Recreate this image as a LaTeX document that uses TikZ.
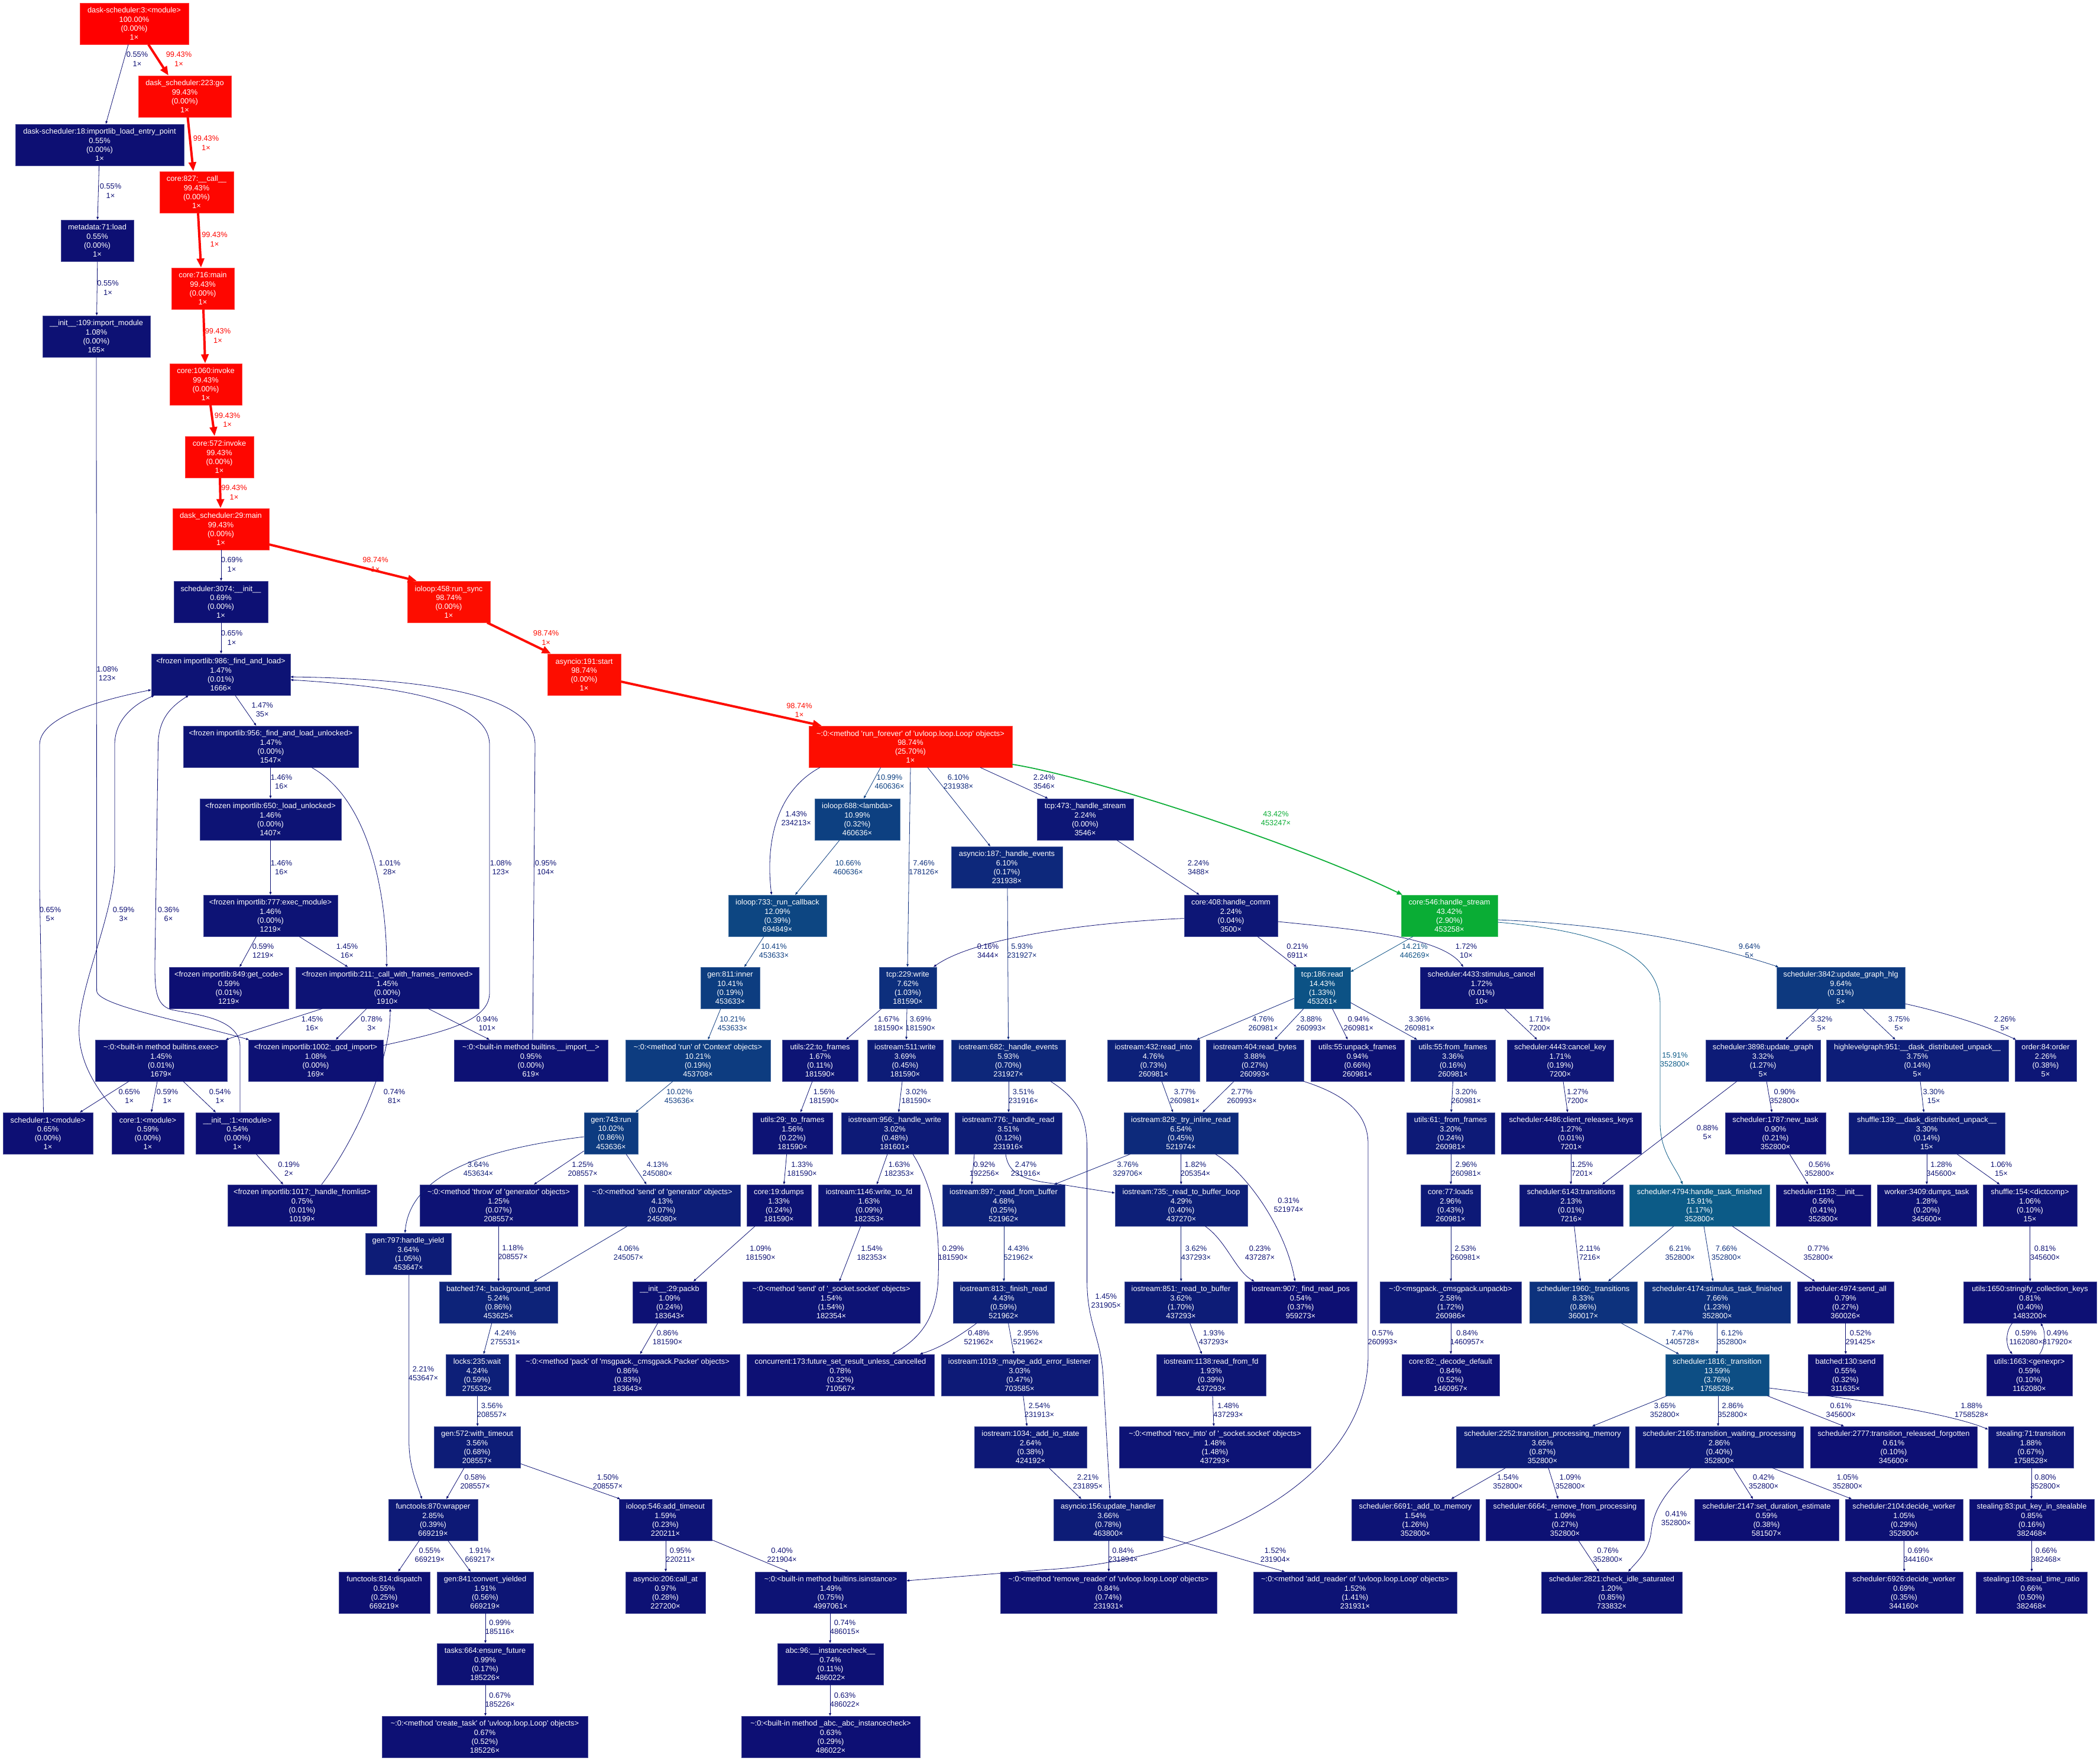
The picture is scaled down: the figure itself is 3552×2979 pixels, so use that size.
\documentclass[tikz,border=0pt]{standalone}
\usepackage{fontspec}
\usetikzlibrary{arrows.meta}
\newfontfamily\nfam{Liberation Sans}[Ligatures={TeXOff,CommonOff}]
\newcommand\nf{\nfam\fontsize{12.8}{15.1}\selectfont}
\newcommand\tld{\textasciitilde}
\newcommand\gcolor[2]{%
  \pgfmathsetmacro\gcw{min(max(#1,0),1)}%
  \pgfmathsetmacro\gch{0.666667*(1-\gcw)}%
  \pgfmathsetmacro\gcs{0.8+0.2*\gcw}%
  \pgfmathsetmacro\gcl{0.25+0.25*\gcw}%
  \pgfmathsetmacro\gcmb{\gcl*(\gcs+1)}%
  \pgfmathsetmacro\gcma{2*\gcl-\gcmb}%
  \pgfmathsetmacro\gcr{(\gch<0.166667) ? \gcmb : ((\gch<0.333333) ? (\gcma+(\gcmb-\gcma)*(0.333333-\gch)*6) : \gcma)}%
  \pgfmathsetmacro\gcg{(\gch<0.166667) ? (\gcma+(\gcmb-\gcma)*6*\gch) : ((\gch<0.5) ? \gcmb : (\gcma+(\gcmb-\gcma)*(0.666667-\gch)*6))}%
  \pgfmathsetmacro\gcb{(\gch<0.333333) ? \gcma : ((\gch<0.5) ? (\gcma+(\gcmb-\gcma)*6*(\gch-0.333333)) : \gcmb)}%
  \pgfmathsetmacro\gcr{min(max(\gcr,0),1)}%
  \pgfmathsetmacro\gcg{min(max(\gcg,0),1)}%
  \pgfmathsetmacro\gcb{min(max(\gcb,0),1)}%
  \edef\gctmp{\noexpand\definecolor{#2}{rgb}{\gcr,\gcg,\gcb}}\gctmp
}
\tikzset{
  box/.style={rectangle, inner sep=0pt, minimum height=70pt, text=white, align=center, font=\nf, line width=0.6pt},
  gn/.code={\gcolor{#1}{ncol}\pgfkeysalso{fill=ncol,draw=ncol!75!white}},
  lb/.code={\gcolor{#1}{lcol}\pgfkeysalso{text=lcol,align=center,font=\nf,inner sep=0pt}},
  ed/.code={%
    \gcolor{#1}{ecol}%
    \pgfmathsetmacro\gcpw{max(#1*4,0.5)}%
    \pgfmathsetmacro\gclw{max(#1*4,0.8)}%
    \pgfmathsetmacro\gcal{5*sqrt(\gcpw)+1.2*\gcpw+0.6}%
    \pgfmathsetmacro\gcaw{3.5*sqrt(\gcpw)+1.2*\gcpw+0.6}%
    \edef\gctmp{\noexpand\pgfkeysalso{draw=ecol,line width=\gclw pt,-{Triangle[length=\gcal pt,width=\gcaw pt]}}}%
    \gctmp
  },
}
\newcommand\GN[6]{\node[box,gn=#5,minimum width={#3-#2}] (#1) at ({(#2+#3)/2},{#4+35}) {#6};}
\newcommand\GL[4]{\node[lb=#1] (#2) at (#3) {#4};}
\newcommand\GE[5]{\draw[ed=#1] (#2.south -| #3,0) -- (#4.north -| #5,0);}
\newcommand\GEL[8]{\GE{#1}{#2}{#3}{#4}{#5}\GL{#1}{#6}{#7}{#8}}
\begin{document}
\begin{tikzpicture}[x=1pt,y=-1pt]
\useasboundingbox (0,0) rectangle (3552,2979);
\fill[white] (0,0) rectangle (3552,2979);
% ---------- nodes ----------
\GN{dask3}{135}{319}{5}{1.0}{dask-scheduler:3:<module>\\100.00\%\\(0.00\%)\\1×}
\GN{go223}{234}{391}{128}{0.9943}{dask\_scheduler:223:go\\99.43\%\\(0.00\%)\\1×}
\GN{entry18}{26}{311}{210}{0.0055}{dask-scheduler:18:importlib\_load\_entry\_point\\0.55\%\\(0.00\%)\\1×}
\GN{call827}{270}{395}{290}{0.9943}{core:827:\_\_call\_\_\\99.43\%\\(0.00\%)\\1×}
\GN{meta71}{103}{226}{372}{0.0055}{metadata:71:load\\0.55\%\\(0.00\%)\\1×}
\GN{main716}{290}{396}{453}{0.9943}{core:716:main\\99.43\%\\(0.00\%)\\1×}
\GN{imp109}{72}{254}{534}{0.0108}{\_\_init\_\_:109:import\_module\\1.08\%\\(0.00\%)\\165×}
\GN{inv1060}{287}{409}{615}{0.9943}{core:1060:invoke\\99.43\%\\(0.00\%)\\1×}
\GN{inv572}{313}{429}{738}{0.9943}{core:572:invoke\\99.43\%\\(0.00\%)\\1×}
\GN{main29}{292}{455}{860}{0.9943}{dask\_scheduler:29:main\\99.43\%\\(0.00\%)\\1×}
\GN{s3074}{294}{453}{983}{0.0069}{scheduler:3074:\_\_init\_\_\\0.69\%\\(0.00\%)\\1×}
\GN{sync458}{689}{829}{983}{0.9874}{ioloop:458:run\_sync\\98.74\%\\(0.00\%)\\1×}
\GN{fl986}{256}{491}{1106}{0.0147}{<frozen importlib:986:\_find\_and\_load>\\1.47\%\\(0.01\%)\\1666×}
\GN{start191}{926}{1050}{1106}{0.9874}{asyncio:191:start\\98.74\%\\(0.00\%)\\1×}
\GN{flu956}{310}{606}{1228}{0.0147}{<frozen importlib:956:\_find\_and\_load\_unlocked>\\1.47\%\\(0.00\%)\\1547×}
\GN{rf}{1368}{1712}{1228}{0.9874}{\tld:0:<method 'run\_forever' of 'uvloop.loop.Loop' objects>\\98.74\%\\(25.70\%)\\1×}
\GN{lu650}{338}{577}{1351}{0.0146}{<frozen importlib:650:\_load\_unlocked>\\1.46\%\\(0.00\%)\\1407×}
\GN{lam688}{1378}{1522}{1351}{0.1099}{ioloop:688:<lambda>\\10.99\%\\(0.32\%)\\460636×}
\GN{hs473}{1754}{1917}{1351}{0.0224}{tcp:473:\_handle\_stream\\2.24\%\\(0.00\%)\\3546×}
\GN{he187}{1609}{1797}{1432}{0.0610}{asyncio:187:\_handle\_events\\6.10\%\\(0.17\%)\\231938×}
\GN{em777}{344}{571}{1514}{0.0146}{<frozen importlib:777:exec\_module>\\1.46\%\\(0.00\%)\\1219×}
\GN{rc733}{1232}{1398}{1514}{0.1209}{ioloop:733:\_run\_callback\\12.09\%\\(0.39\%)\\694849×}
\GN{hc408}{2003}{2161}{1514}{0.0224}{core:408:handle\_comm\\2.24\%\\(0.04\%)\\3500×}
\GN{hs546}{2370}{2533}{1514}{0.4342}{core:546:handle\_stream\\43.42\%\\(2.90\%)\\453258×}
\GN{gc849}{286}{488}{1636}{0.0059}{<frozen importlib:849:get\_code>\\0.59\%\\(0.01\%)\\1219×}
\GN{cwf211}{500}{810}{1636}{0.0145}{<frozen importlib:211:\_call\_with\_frames\_removed>\\1.45\%\\(0.00\%)\\1910×}
\GN{in811}{1185}{1285}{1636}{0.1041}{gen:811:inner\\10.41\%\\(0.19\%)\\453633×}
\GN{w229}{1487}{1584}{1636}{0.0762}{tcp:229:write\\7.62\%\\(1.03\%)\\181590×}
\GN{r186}{2189}{2284}{1636}{0.1443}{tcp:186:read\\14.43\%\\(1.33\%)\\453261×}
\GN{sc4433}{2402}{2610}{1636}{0.0172}{scheduler:4433:stimulus\_cancel\\1.72\%\\(0.01\%)\\10×}
\GN{ugh3842}{3005}{3222}{1636}{0.0964}{scheduler:3842:update\_graph\_hlg\\9.64\%\\(0.31\%)\\5×}
\GN{exec}{161}{384}{1759}{0.0145}{\tld:0:<built-in method builtins.exec>\\1.45\%\\(0.01\%)\\1679×}
\GN{gcd1002}{420}{648}{1759}{0.0108}{<frozen importlib:1002:\_gcd\_import>\\1.08\%\\(0.00\%)\\169×}
\GN{bimp}{768}{1028}{1759}{0.0095}{\tld:0:<built-in method builtins.\_\_import\_\_>\\0.95\%\\(0.00\%)\\619×}
\GN{ctx}{1058}{1303}{1759}{0.1021}{\tld:0:<method 'run' of 'Context' objects>\\10.21\%\\(0.19\%)\\453708×}
\GN{tf22}{1323}{1451}{1759}{0.0167}{utils:22:to\_frames\\1.67\%\\(0.11\%)\\181590×}
\GN{w511}{1467}{1595}{1759}{0.0369}{iostream:511:write\\3.69\%\\(0.45\%)\\181590×}
\GN{he682}{1609}{1802}{1759}{0.0593}{iostream:682:\_handle\_events\\5.93\%\\(0.70\%)\\231927×}
\GN{ri432}{1873}{2029}{1759}{0.0476}{iostream:432:read\_into\\4.76\%\\(0.73\%)\\260981×}
\GN{rb404}{2040}{2205}{1759}{0.0388}{iostream:404:read\_bytes\\3.88\%\\(0.27\%)\\260993×}
\GN{uf55}{2217}{2375}{1759}{0.0094}{utils:55:unpack\_frames\\0.94\%\\(0.66\%)\\260981×}
\GN{ff55}{2386}{2529}{1759}{0.0336}{utils:55:from\_frames\\3.36\%\\(0.16\%)\\260981×}
\GN{ck4443}{2549}{2729}{1759}{0.0171}{scheduler:4443:cancel\_key\\1.71\%\\(0.19\%)\\7200×}
\GN{ug3898}{2885}{3079}{1759}{0.0332}{scheduler:3898:update\_graph\\3.32\%\\(1.27\%)\\5×}
\GN{hlg951}{3089}{3397}{1759}{0.0375}{highlevelgraph:951:\_\_dask\_distributed\_unpack\_\_\\3.75\%\\(0.14\%)\\5×}
\GN{ord84}{3408}{3512}{1759}{0.0226}{order:84:order\\2.26\%\\(0.38\%)\\5×}
\GN{smod}{5}{157}{1882}{0.0065}{scheduler:1:<module>\\0.65\%\\(0.00\%)\\1×}
\GN{cmod}{189}{311}{1882}{0.0059}{core:1:<module>\\0.59\%\\(0.00\%)\\1×}
\GN{imod}{331}{472}{1882}{0.0054}{\_\_init\_\_:1:<module>\\0.54\%\\(0.00\%)\\1×}
\GN{run743}{988}{1079}{1882}{0.1002}{gen:743:run\\10.02\%\\(0.86\%)\\453636×}
\GN{tf29}{1273}{1408}{1882}{0.0156}{utils:29:\_to\_frames\\1.56\%\\(0.22\%)\\181590×}
\GN{hw956}{1423}{1604}{1882}{0.0302}{iostream:956:\_handle\_write\\3.02\%\\(0.48\%)\\181601×}
\GN{hr776}{1615}{1796}{1882}{0.0351}{iostream:776:\_handle\_read\\3.51\%\\(0.12\%)\\231916×}
\GN{tir829}{1901}{2094}{1882}{0.0654}{iostream:829:\_try\_inline\_read\\6.54\%\\(0.45\%)\\521974×}
\GN{ff61}{2379}{2528}{1882}{0.0320}{utils:61:\_from\_frames\\3.20\%\\(0.24\%)\\260981×}
\GN{crk4486}{2539}{2776}{1882}{0.0127}{scheduler:4486:client\_releases\_keys\\1.27\%\\(0.01\%)\\7201×}
\GN{nt1787}{2918}{3088}{1882}{0.0090}{scheduler:1787:new\_task\\0.90\%\\(0.21\%)\\352800×}
\GN{sh139}{3127}{3391}{1882}{0.0330}{shuffle:139:\_\_dask\_distributed\_unpack\_\_\\3.30\%\\(0.14\%)\\15×}
\GN{hfl1017}{385}{637}{2004}{0.0075}{<frozen importlib:1017:\_handle\_fromlist>\\0.75\%\\(0.01\%)\\10199×}
\GN{throw}{710}{977}{2004}{0.0125}{\tld:0:<method 'throw' of 'generator' objects>\\1.25\%\\(0.07\%)\\208557×}
\GN{send}{988}{1252}{2004}{0.0413}{\tld:0:<method 'send' of 'generator' objects>\\4.13\%\\(0.07\%)\\245080×}
\GN{dumps19}{1263}{1372}{2004}{0.0133}{core:19:dumps\\1.33\%\\(0.24\%)\\181590×}
\GN{wfd1146}{1384}{1556}{2004}{0.0163}{iostream:1146:write\_to\_fd\\1.63\%\\(0.09\%)\\182353×}
\GN{rfb897}{1594}{1801}{2004}{0.0468}{iostream:897:\_read\_from\_buffer\\4.68\%\\(0.25\%)\\521962×}
\GN{rtbl735}{1886}{2110}{2004}{0.0429}{iostream:735:\_read\_to\_buffer\_loop\\4.29\%\\(0.40\%)\\437270×}
\GN{loads77}{2403}{2504}{2004}{0.0296}{core:77:loads\\2.96\%\\(0.43\%)\\260981×}
\GN{tr6143}{2570}{2745}{2004}{0.0213}{scheduler:6143:transitions\\2.13\%\\(0.01\%)\\7216×}
\GN{htf4794}{2756}{2993}{2004}{0.1591}{scheduler:4794:handle\_task\_finished\\15.91\%\\(1.17\%)\\352800×}
\GN{init1193}{3004}{3164}{2004}{0.0056}{scheduler:1193:\_\_init\_\_\\0.56\%\\(0.41\%)\\352800×}
\GN{dt3409}{3175}{3343}{2004}{0.0128}{worker:3409:dumps\_task\\1.28\%\\(0.20\%)\\345600×}
\GN{dc154}{3354}{3513}{2004}{0.0106}{shuffle:154:<dictcomp>\\1.06\%\\(0.10\%)\\15×}
\GN{hy797}{618}{763}{2086}{0.0364}{gen:797:handle\_yield\\3.64\%\\(1.05\%)\\453647×}
\GN{bs74}{743}{943}{2168}{0.0524}{batched:74:\_background\_send\\5.24\%\\(0.86\%)\\453625×}
\GN{packb29}{1070}{1195}{2168}{0.0109}{\_\_init\_\_:29:packb\\1.09\%\\(0.24\%)\\183643×}
\GN{ssend}{1256}{1556}{2168}{0.0154}{\tld:0:<method 'send' of '\_socket.socket' objects>\\1.54\%\\(1.54\%)\\182354×}
\GN{fr813}{1612}{1783}{2168}{0.0443}{iostream:813:\_finish\_read\\4.43\%\\(0.59\%)\\521962×}
\GN{rtb851}{1902}{2093}{2168}{0.0362}{iostream:851:\_read\_to\_buffer\\3.62\%\\(1.70\%)\\437293×}
\GN{frp907}{2105}{2295}{2168}{0.0054}{iostream:907:\_find\_read\_pos\\0.54\%\\(0.37\%)\\959273×}
\GN{unpackb}{2334}{2573}{2168}{0.0258}{\tld:0:<msgpack.\_cmsgpack.unpackb>\\2.58\%\\(1.72\%)\\260986×}
\GN{tr1960}{2587}{2769}{2168}{0.0833}{scheduler:1960:\_transitions\\8.33\%\\(0.86\%)\\360017×}
\GN{stf4174}{2781}{3028}{2168}{0.0766}{scheduler:4174:stimulus\_task\_finished\\7.66\%\\(1.23\%)\\352800×}
\GN{sa4974}{3040}{3203}{2168}{0.0079}{scheduler:4974:send\_all\\0.79\%\\(0.27\%)\\360026×}
\GN{sck1650}{3321}{3546}{2168}{0.0081}{utils:1650:stringify\_collection\_keys\\0.81\%\\(0.40\%)\\1483200×}
\GN{wait235}{754}{860}{2291}{0.0424}{locks:235:wait\\4.24\%\\(0.59\%)\\275532×}
\GN{pack}{872}{1251}{2291}{0.0086}{\tld:0:<method 'pack' of 'msgpack.\_cmsgpack.Packer' objects>\\0.86\%\\(0.83\%)\\183643×}
\GN{fsr173}{1263}{1580}{2291}{0.0078}{concurrent:173:future\_set\_result\_unless\_cancelled\\0.78\%\\(0.32\%)\\710567×}
\GN{mael1019}{1592}{1857}{2291}{0.0303}{iostream:1019:\_maybe\_add\_error\_listener\\3.03\%\\(0.47\%)\\703585×}
\GN{rfd1138}{1956}{2141}{2291}{0.0193}{iostream:1138:read\_from\_fd\\1.93\%\\(0.39\%)\\437293×}
\GN{dd82}{2371}{2536}{2291}{0.0084}{core:82:\_decode\_default\\0.84\%\\(0.52\%)\\1460957×}
\GN{t1816}{2817}{2992}{2291}{0.1359}{scheduler:1816:\_transition\\13.59\%\\(3.76\%)\\1758528×}
\GN{send130}{3058}{3185}{2291}{0.0055}{batched:130:send\\0.55\%\\(0.32\%)\\311635×}
\GN{gx1663}{3360}{3505}{2291}{0.0059}{utils:1663:<genexpr>\\0.59\%\\(0.10\%)\\1162080×}
\GN{wt572}{734}{880}{2413}{0.0356}{gen:572:with\_timeout\\3.56\%\\(0.68\%)\\208557×}
\GN{ais1034}{1648}{1838}{2413}{0.0264}{iostream:1034:\_add\_io\_state\\2.64\%\\(0.38\%)\\424192×}
\GN{recv}{1893}{2217}{2413}{0.0148}{\tld:0:<method 'recv\_into' of '\_socket.socket' objects>\\1.48\%\\(1.48\%)\\437293×}
\GN{tpm2252}{2463}{2755}{2413}{0.0365}{scheduler:2252:transition\_processing\_memory\\3.65\%\\(0.87\%)\\352800×}
\GN{twp2165}{2766}{3050}{2413}{0.0286}{scheduler:2165:transition\_waiting\_processing\\2.86\%\\(0.40\%)\\352800×}
\GN{trf2777}{3062}{3344}{2413}{0.0061}{scheduler:2777:transition\_released\_forgotten\\0.61\%\\(0.10\%)\\345600×}
\GN{st71}{3363}{3507}{2413}{0.0188}{stealing:71:transition\\1.88\%\\(0.67\%)\\1758528×}
\GN{wr870}{657}{808}{2536}{0.0285}{functools:870:wrapper\\2.85\%\\(0.39\%)\\669219×}
\GN{at546}{1047}{1204}{2536}{0.0159}{ioloop:546:add\_timeout\\1.59\%\\(0.23\%)\\220211×}
\GN{uh156}{1782}{1967}{2536}{0.0366}{asyncio:156:update\_handler\\3.66\%\\(0.78\%)\\463800×}
\GN{atm6691}{2286}{2502}{2536}{0.0154}{scheduler:6691:\_add\_to\_memory\\1.54\%\\(1.26\%)\\352800×}
\GN{rfp6664}{2513}{2781}{2536}{0.0109}{scheduler:6664:\_remove\_from\_processing\\1.09\%\\(0.27\%)\\352800×}
\GN{sde2147}{2866}{3110}{2536}{0.0059}{scheduler:2147:set\_duration\_estimate\\0.59\%\\(0.38\%)\\581507×}
\GN{dw2104}{3121}{3320}{2536}{0.0105}{scheduler:2104:decide\_worker\\1.05\%\\(0.29\%)\\352800×}
\GN{pk83}{3331}{3542}{2536}{0.0085}{stealing:83:put\_key\_in\_stealable\\0.85\%\\(0.16\%)\\382468×}
\GN{disp814}{573}{727}{2659}{0.0055}{functools:814:dispatch\\0.55\%\\(0.25\%)\\669219×}
\GN{cy841}{739}{902}{2659}{0.0191}{gen:841:convert\_yielded\\1.91\%\\(0.56\%)\\669219×}
\GN{ca206}{1058}{1193}{2659}{0.0097}{asyncio:206:call\_at\\0.97\%\\(0.28\%)\\227200×}
\GN{isinst}{1277}{1533}{2659}{0.0149}{\tld:0:<built-in method builtins.isinstance>\\1.49\%\\(0.75\%)\\4997061×}
\GN{rr}{1692}{2058}{2659}{0.0084}{\tld:0:<method 'remove\_reader' of 'uvloop.loop.Loop' objects>\\0.84\%\\(0.74\%)\\231931×}
\GN{ar}{2120}{2464}{2659}{0.0152}{\tld:0:<method 'add\_reader' of 'uvloop.loop.Loop' objects>\\1.52\%\\(1.41\%)\\231931×}
\GN{cis2821}{2607}{2845}{2659}{0.0120}{scheduler:2821:check\_idle\_saturated\\1.20\%\\(0.85\%)\\733832×}
\GN{dw6926}{3121}{3320}{2659}{0.0069}{scheduler:6926:decide\_worker\\0.69\%\\(0.35\%)\\344160×}
\GN{str108}{3342}{3530}{2659}{0.0066}{stealing:108:steal\_time\_ratio\\0.66\%\\(0.50\%)\\382468×}
\GN{ef664}{739}{902}{2780}{0.0099}{tasks:664:ensure\_future\\0.99\%\\(0.17\%)\\185226×}
\GN{ic96}{1315}{1494}{2780}{0.0074}{abc:96:\_\_instancecheck\_\_\\0.74\%\\(0.11\%)\\486022×}
\GN{ct}{646}{994}{2903}{0.0067}{\tld:0:<method 'create\_task' of 'uvloop.loop.Loop' objects>\\0.67\%\\(0.52\%)\\185226×}
\GN{aic}{1254}{1556}{2903}{0.0063}{\tld:0:<built-in method \_abc.\_abc\_instancecheck>\\0.63\%\\(0.29\%)\\486022×}
% ---------- edges ----------
\GEL{0.0055}{dask3}{217}{entry18}{179}{l1}{232,100}{0.55\%\\1×}
\GEL{0.9943}{dask3}{251}{go223}{285}{l2}{302.5,100}{99.43\%\\1×}
\GEL{0.9943}{go223}{317.5}{call827}{327}{l3}{348.5,242}{99.43\%\\1×}
\GEL{0.0055}{entry18}{167.6}{meta71}{165}{l4}{187,323}{0.55\%\\1×}
\GEL{0.9943}{call827}{335}{main716}{340}{l5}{363,405}{99.43\%\\1×}
\GEL{0.0055}{meta71}{164.8}{imp109}{163.6}{l6}{182.5,487}{0.55\%\\1×}
\GEL{0.9943}{main716}{344}{inv1060}{347}{l7}{368.5,568}{99.43\%\\1×}
\GEL{0.9943}{inv1060}{356}{inv572}{363}{l8}{384.6,710.5}{99.43\%\\1×}
\GEL{0.9943}{inv572}{372}{main29}{373}{l9}{396,833}{99.43\%\\1×}
\GEL{0.0069}{main29}{374}{s3074}{374}{l10}{392,955}{0.69\%\\1×}
\draw[ed=0.9874] (main29.east |- 0,921) -- (sync458.north -| 705,0);
\GL{0.9874}{l11}{635,955}{98.74\%\\1×}
\GEL{0.0065}{s3074}{374}{fl986}{374}{l12}{392,1079}{0.65\%\\1×}
\draw[ed=0.9874] (sync458.south -| 824,0) -- (start191.north -| 932,0);
\GL{0.9874}{l13}{923.6,1079}{98.74\%\\1×}
\draw[ed=0.9874] (start191.east |- 0,1153) -- (rf.north -| 1390,0);
\GL{0.9874}{l14}{1352,1201.5}{98.74\%\\1×}
\draw[ed=0.0108] (imp109.south) -- (163.6,1676) .. controls (163.6,1700) and (300,1725) .. (gcd1002.north -| 421,0);
\GL{0.0108}{l15}{181.4,1139.7}{1.08\%\\123×}
\GEL{0.0147}{fl986}{397.8}{flu956}{433.4}{l16}{443.7,1201}{1.47\%\\35×}
\draw[ed=0.0065] (smod.north -| 73.5,0) -- (67,1500) -- (67,1260) .. controls (67,1220) and (140,1190) .. (fl986.west |- 0,1167);
\GL{0.0065}{l17}{85,1547}{0.65\%\\5×}
\draw[ed=0.0059] (cmod.north -| 198,0) .. controls (160,1840) and (130,1790) .. (134,1733) .. controls (138,1660) and (194,1540) .. (194,1460) -- (194,1260) .. controls (194,1215) and (230,1190) .. (fl986.south -| 261,0);
\GL{0.0059}{l18}{209,1547}{0.59\%\\3×}
\draw[ed=0.0036] (imod.north -| 406,0) -- (406,1770) .. controls (406,1720) and (320,1715) .. (290,1708) .. controls (262,1700) and (262,1670) .. (262,1630) -- (267.5,1260) .. controls (268,1215) and (290,1195) .. (fl986.south -| 319,0);
\GL{0.0036}{l19}{285,1547}{0.36\%\\6×}
\GEL{0.0146}{flu956}{457.5}{lu650}{457.5}{l20}{476,1323}{1.46\%\\16×}
\draw[ed=0.0101] (flu956.south -| 527,0) .. controls (620,1350) and (654,1500) .. (cwf211.north -| 654,0);
\GL{0.0101}{l21}{659,1467.5}{1.01\%\\28×}
\GEL{0.0146}{lu650}{457.5}{em777}{457.5}{l22}{476,1467.5}{1.46\%\\16×}
\GEL{0.0059}{em777}{433.4}{gc849}{405.3}{l23}{445,1609}{0.59\%\\1219×}
\GEL{0.0145}{em777}{506}{cwf211}{588.4}{l24}{587,1609}{1.45\%\\16×}
\GEL{0.0145}{cwf211}{545}{exec}{381.7}{l25}{528,1731.5}{1.45\%\\16×}
\GEL{0.0078}{cwf211}{620}{gcd1002}{568}{l26}{628.6,1731.5}{0.78\%\\3×}
\GEL{0.0094}{cwf211}{724.5}{bimp}{828}{l27}{824,1731.5}{0.94\%\\101×}
\draw[ed=0.0108] (gcd1002.east |- 0,1768.5) .. controls (740,1748) and (828,1730) .. (828,1680) -- (828,1260) .. controls (828,1180) and (650,1160) .. (fl986.east |- 0,1150);
\GL{0.0108}{l28}{847,1467.5}{1.08\%\\123×}
\draw[ed=0.0095] (bimp.north -| 901,0) -- (905,1260) .. controls (905,1170) and (700,1148) .. (fl986.east |- 0,1145);
\GL{0.0095}{l29}{923,1467.5}{0.95\%\\104×}
\GEL{0.0065}{exec}{218}{smod}{135}{l30}{218.7,1854.6}{0.65\%\\1×}
\GEL{0.0059}{exec}{266}{cmod}{256}{l31}{283,1854.6}{0.59\%\\1×}
\GEL{0.0054}{exec}{310}{imod}{365}{l32}{372,1854.6}{0.54\%\\1×}
\GEL{0.0019}{imod}{433.4}{hfl1017}{479}{l33}{488.5,1977.7}{0.19\%\\2×}
\draw[ed=0.0074] (hfl1017.north -| 544,0) .. controls (600,1930) and (660,1800) .. (cwf211.south -| 660,0);
\GL{0.0074}{l34}{667,1854.6}{0.74\%\\81×}
\GEL{0.1099}{rf}{1489.6}{lam688}{1461}{l35}{1504.6,1323}{10.99\%\\460636×}
\draw[ed=0.0143] (rf.south -| 1387,0) .. controls (1310,1340) and (1295,1430) .. (rc733.north -| 1305,0);
\GL{0.0143}{l36}{1346.7,1385}{1.43\%\\234213×}
\GEL{0.1066}{lam688}{1420}{rc733}{1345}{l37}{1434.5,1467.5}{10.66\%\\460636×}
\GEL{0.0746}{rf}{1540}{w229}{1535}{l38}{1562.5,1467.5}{7.46\%\\178126×}
\GEL{0.0610}{rf}{1569}{he187}{1675}{l39}{1621,1323}{6.10\%\\231938×}
\GEL{0.0224}{rf}{1658}{hs473}{1772.6}{l40}{1766,1323}{2.24\%\\3546×}
\draw[ed=0.4342] (rf.east |- 0,1293) .. controls (1850,1315) and (2200,1430) .. (hs546.north -| 2372,0);
\GL{0.4342}{l41}{2158,1385}{43.42\%\\453247×}
\GEL{0.1041}{rc733}{1292}{in811}{1259}{l42}{1309,1609}{10.41\%\\453633×}
\GEL{0.1021}{in811}{1219}{ctx}{1197.5}{l43}{1239,1731.5}{10.21\%\\453633×}
\GEL{0.1002}{ctx}{1138}{run743}{1075}{l44}{1149,1854.6}{10.02\%\\453636×}
\GEL{0.0167}{w229}{1491}{tf22}{1431}{l45}{1503,1731.5}{1.67\%\\181590×}
\GEL{0.0369}{w229}{1534}{w511}{1533}{l46}{1557,1731.5}{3.69\%\\181590×}
\GEL{0.0593}{he187}{1704}{he682}{1705.5}{l47}{1728.5,1609}{5.93\%\\231927×}
\draw[ed=0.0016] (hc408.west |- 0,1553.6) .. controls (1850,1560) and (1650,1585) .. (w229.north -| 1579,0);
\GL{0.0016}{l48}{1671,1609}{0.16\%\\3444×}
\GEL{0.0156}{tf22}{1374}{tf29}{1354}{l49}{1394,1854.6}{1.56\%\\181590×}
\GEL{0.0302}{w511}{1526}{hw956}{1520}{l50}{1550,1854.6}{3.02\%\\181590×}
\GEL{0.0351}{he682}{1706}{hr776}{1706}{l51}{1731,1854.6}{3.51\%\\231916×}
\draw[ed=0.0364] (run743.west |- 0,1923) .. controls (850,1940) and (695,1975) .. (hy797.north -| 685,0);
\GL{0.0364}{l52}{809,1977.7}{3.64\%\\453634×}
\draw[ed=0.0125] (run743.west |- 0,1947) -- (throw.north -| 903,0);
\GL{0.0125}{l53}{985.6,1977.7}{1.25\%\\208557×}
\GEL{0.0413}{run743}{1059}{send}{1093.5}{l54}{1112,1977.7}{4.13\%\\245080×}
\GEL{0.0133}{tf29}{1330.6}{dumps19}{1326}{l55}{1356.5,1977.7}{1.33\%\\181590×}
\GEL{0.0163}{hw956}{1501}{wfd1146}{1483}{l56}{1521,1977.7}{1.63\%\\182353×}
\draw[ed=0.0029] (hw956.south -| 1544,0) .. controls (1580,2010) and (1590,2080) .. (1587,2160) .. controls (1585,2240) and (1545,2270) .. (fsr173.north -| 1509,0);
\GL{0.0029}{l57}{1612,2120}{0.29\%\\181590×}
\GEL{0.0092}{hr776}{1648}{rfb897}{1643.5}{l58}{1665,1977.7}{0.92\%\\192256×}
\draw[ed=0.0247] (hr776.south -| 1701,0) .. controls (1705,1985) and (1730,1997) .. (1790,2003) -- (rtbl735.west |- 0,2018);
\GL{0.0247}{l59}{1735,1977.7}{2.47\%\\231916×}
\GEL{0.0224}{hs473}{1889}{hc408}{2028.7}{l60}{2027,1467.5}{2.24\%\\3488×}
\draw[ed=0.1421] (hs546.south -| 2390,0) -- (r186.east |- 0,1644);
\GL{0.1421}{l61}{2393,1609}{14.21\%\\446269×}
\GEL{0.0021}{hc408}{2127}{r186}{2193}{l62}{2194.5,1609}{0.21\%\\6911×}
\draw[ed=0.0172] (hc408.east |- 0,1559) .. controls (2300,1573) and (2440,1585) .. (sc4433.north -| 2475,0);
\GL{0.0172}{l63}{2480,1609}{1.72\%\\10×}
\draw[ed=0.1591] (hs546.east |- 0,1560) .. controls (2700,1575) and (2808,1610) .. (2808,1700) -- (2808,1900) .. controls (2808,1950) and (2835,1975) .. (htf4794.north -| 2846,0);
\GL{0.1591}{l64}{2833,1793}{15.91\%\\352800×}
\draw[ed=0.0964] (hs546.east |- 0,1556) .. controls (2750,1565) and (2900,1600) .. (ugh3842.north -| 3008,0);
\GL{0.0964}{l65}{2959,1609}{9.64\%\\5×}
\draw[ed=0.0476] (r186.west |- 0,1689) -- (ri432.north -| 2024,0);
\GL{0.0476}{l66}{2136.6,1731.5}{4.76\%\\260981×}
\GEL{0.0388}{r186}{2205}{rb404}{2156}{l67}{2217.5,1731.5}{3.88\%\\260993×}
\GEL{0.0094}{r186}{2253.7}{uf55}{2279.5}{l68}{2298,1731.5}{0.94\%\\260981×}
\draw[ed=0.0336] (r186.east |- 0,1696) -- (ff55.north -| 2397,0);
\GL{0.0336}{l69}{2401,1731.5}{3.36\%\\260981×}
\GEL{0.0171}{sc4433}{2544.7}{ck4443}{2600}{l70}{2604.4,1731.5}{1.71\%\\7200×}
\GEL{0.0377}{ri432}{1965}{tir829}{1984}{l71}{2004,1854.6}{3.77\%\\260981×}
\GEL{0.0277}{rb404}{2087}{tir829}{2034}{l72}{2100.4,1854.6}{2.77\%\\260993×}
\draw[ed=0.0057] (rb404.south east) .. controls (2270,1850) and (2314,1880) .. (2314,1935) -- (2314,2293) .. controls (2314,2500) and (2050,2640) .. (1760,2656) -- (isinst.east |- 0,2674);
\GL{0.0057}{l73}{2338.7,2262.5}{0.57\%\\260993×}
\GEL{0.0320}{ff55}{2457.5}{ff61}{2454.6}{l74}{2480,1854.6}{3.20\%\\260981×}
\GEL{0.0127}{ck4443}{2644}{crk4486}{2651.5}{l75}{2668.4,1854.6}{1.27\%\\7200×}
\draw[ed=0.0145] (he682.south -| 1777,0) .. controls (1825,1860) and (1838.6,1890) .. (1838.6,1945) -- (1838.6,2166) .. controls (1838.6,2240) and (1862,2260) .. (1866,2330) -- (uh156.north -| 1877.7,0);
\GL{0.0145}{l76}{1870.8,2201}{1.45\%\\231905×}
\GEL{0.0376}{tir829}{1912}{rfb897}{1783}{l77}{1907.5,1977.7}{3.76\%\\329706×}
\GEL{0.0182}{tir829}{1997.7}{rtbl735}{1997.7}{l78}{2022,1977.7}{1.82\%\\205354×}
\draw[ed=0.0031] (tir829.south -| 2055.6,0) .. controls (2110,1985) and (2175,2080) .. (frp907.north -| 2190.5,0);
\GL{0.0031}{l79}{2179.6,2039}{0.31\%\\521974×}
\GEL{0.0296}{ff61}{2454}{loads77}{2454}{l80}{2480,1977.7}{2.96\%\\260981×}
\GEL{0.0125}{crk4486}{2657}{tr6143}{2657}{l81}{2676,1977.7}{1.25\%\\7201×}
\GEL{0.0332}{ugh3842}{3075.7}{ug3898}{3020}{l82}{3081,1731.5}{3.32\%\\5×}
\GEL{0.0375}{ugh3842}{3150.6}{hlg951}{3205.8}{l83}{3212,1731.5}{3.75\%\\5×}
\draw[ed=0.0226] (ugh3842.east |- 0,1698) .. controls (3300,1715) and (3370,1740) .. (ord84.north -| 3410,0);
\GL{0.0226}{l84}{3391,1731.5}{2.26\%\\5×}
\GEL{0.0090}{ug3898}{2988}{nt1787}{2997}{l85}{3018.8,1854.6}{0.90\%\\352800×}
\GEL{0.0088}{ug3898}{2937.7}{tr6143}{2710}{l86}{2888,1916}{0.88\%\\5×}
\GEL{0.0330}{hlg951}{3248}{sh139}{3254}{l87}{3270.7,1854.6}{3.30\%\\15×}
\GEL{0.0056}{nt1787}{3027}{init1193}{3058.5}{l88}{3077.5,1977.7}{0.56\%\\352800×}
\GEL{0.0128}{sh139}{3259}{dt3409}{3259}{l89}{3283.5,1977.7}{1.28\%\\345600×}
\GEL{0.0106}{sh139}{3310}{dc154}{3382.4}{l90}{3385,1977.7}{1.06\%\\15×}
\GEL{0.0118}{throw}{843.3}{bs74}{843.3}{l91}{867.4,2119}{1.18\%\\208557×}
\draw[ed=0.0221] (hy797.south -| 691.8,0) -- (691.8,2440) .. controls (691.8,2480) and (705,2510) .. (wr870.north -| 713.6,0);
\GL{0.0221}{l92}{716,2324}{2.21\%\\453647×}
\GEL{0.0424}{bs74}{831.8}{wait235}{818}{l93}{854.8,2263}{4.24\%\\275531×}
\GEL{0.0406}{send}{1061}{bs74}{903}{l94}{1063,2120}{4.06\%\\245057×}
\GEL{0.0109}{dumps19}{1277}{packb29}{1172.8}{l95}{1286.4,2120}{1.09\%\\181590×}
\GEL{0.0154}{wfd1146}{1455.8}{ssend}{1419.6}{l96}{1474.7,2120}{1.54\%\\182353×}
\GEL{0.0443}{rfb897}{1698}{fr813}{1698}{l97}{1722.7,2120}{4.43\%\\521962×}
\GEL{0.0362}{rtbl735}{1997.7}{rtb851}{1997.7}{l98}{2023,2120}{3.62\%\\437293×}
\draw[ed=0.0023] (rtbl735.south -| 2038.4,0) .. controls (2075,2100) and (2090,2150) .. (frp907.north -| 2121.7,0);
\GL{0.0023}{l99}{2131,2120}{0.23\%\\437287×}
\GEL{0.0253}{loads77}{2454}{unpackb}{2454}{l100}{2478.7,2120}{2.53\%\\260981×}
\GEL{0.0211}{tr6143}{2662.7}{tr1960}{2673}{l101}{2689,2120}{2.11\%\\7216×}
\GEL{0.0621}{htf4794}{2831}{tr1960}{2720}{l102}{2841.6,2120}{6.21\%\\352800×}
\GEL{0.0766}{htf4794}{2882}{stf4174}{2897.4}{l103}{2920,2120}{7.66\%\\352800×}
\GEL{0.0077}{htf4794}{2930}{sa4974}{3070}{l104}{3075.8,2120}{0.77\%\\352800×}
\GEL{0.0081}{dc154}{3433.7}{sck1650}{3433.7}{l105}{3459,2120}{0.81\%\\345600×}
\GEL{0.0356}{wait235}{807.7}{wt572}{807.7}{l106}{832,2385.5}{3.56\%\\208557×}
\GEL{0.0086}{packb29}{1112.5}{pack}{1082.6}{l107}{1129,2263}{0.86\%\\181590×}
\draw[ed=0.0048] (fr813.south -| 1652,0) .. controls (1620,2262) and (1590,2280) .. (fsr173.north -| 1556,0);
\GL{0.0048}{l108}{1655.6,2263}{0.48\%\\521962×}
\GEL{0.0295}{fr813}{1705.5}{mael1019}{1715}{l109}{1738.8,2263}{2.95\%\\521962×}
\GEL{0.0193}{rtb851}{2012.6}{rfd1138}{2032.7}{l110}{2053,2263}{1.93\%\\437293×}
\GEL{0.0084}{unpackb}{2454}{dd82}{2454}{l111}{2481.6,2263}{0.84\%\\1460957×}
\GEL{0.0747}{tr1960}{2742}{t1816}{2840}{l112}{2845.6,2263}{7.47\%\\1405728×}
\GEL{0.0612}{stf4174}{2904}{t1816}{2904}{l113}{2929.6,2263}{6.12\%\\352800×}
\GEL{0.0052}{sa4974}{3121.8}{send130}{3121.8}{l114}{3147,2263}{0.52\%\\291425×}
\draw[ed=0.0059] (sck1650.south -| 3403.7,0) .. controls (3392,2252) and (3392,2276) .. (gx1663.north -| 3403.7,0);
\GL{0.0059}{l115}{3426.8,2263}{0.59\%\\1162080×}
\draw[ed=0.0049] (gx1663.north -| 3449.8,0) .. controls (3460,2276) and (3460,2252) .. (sck1650.south -| 3451.5,0);
\GL{0.0049}{l116}{3480,2263}{0.49\%\\817920×}
\draw[ed=0.0150] (wt572.east |- 0,2476) -- (at546.north -| 1049,0);
\GL{0.0150}{l117}{1028,2507}{1.50\%\\208557×}
\GEL{0.0058}{wt572}{785}{wr870}{755}{l118}{803.7,2507}{0.58\%\\208557×}
\GEL{0.0254}{mael1019}{1730.7}{ais1034}{1737}{l119}{1758,2385.5}{2.54\%\\231913×}
\GEL{0.0148}{rfd1138}{2051}{recv}{2053}{l120}{2077.5,2385.5}{1.48\%\\437293×}
\GEL{0.0365}{t1816}{2819.7}{tpm2252}{2693}{l121}{2816,2385.5}{3.65\%\\352800×}
\GEL{0.0286}{t1816}{2906}{twp2165}{2906}{l122}{2930.8,2385.5}{2.86\%\\352800×}
\GEL{0.0061}{t1816}{2989.5}{trf2777}{3119}{l123}{3113.8,2385.5}{0.61\%\\345600×}
\draw[ed=0.0188] (t1816.east |- 0,2348) .. controls (3150,2368) and (3300,2392) .. (st71.west |- 0,2418);
\GL{0.0188}{l124}{3334.7,2385.5}{1.88\%\\1758528×}
\GEL{0.0095}{at546}{1126}{ca206}{1126}{l125}{1151,2631}{0.95\%\\220211×}
\draw[ed=0.0040] (at546.east |- 0,2605) -- (isinst.north -| 1333.5,0);
\GL{0.0040}{l126}{1322.6,2631}{0.40\%\\221904×}
\GEL{0.0055}{wr870}{709}{disp814}{673.4}{l127}{726.8,2631}{0.55\%\\669219×}
\GEL{0.0191}{wr870}{757.8}{cy841}{796}{l128}{811.7,2631}{1.91\%\\669217×}
\GEL{0.0084}{uh156}{1875.4}{rr}{1875.4}{l129}{1899.5,2631}{0.84\%\\231894×}
\draw[ed=0.0152] (uh156.east |- 0,2599) -- (ar.north -| 2173,0);
\GL{0.0152}{l130}{2157,2631}{1.52\%\\231904×}
\GEL{0.0221}{ais1034}{1774.4}{uh156}{1829}{l131}{1840,2507}{2.21\%\\231895×}
\GEL{0.0154}{tpm2252}{2546.5}{atm6691}{2454.6}{l132}{2550.5,2507}{1.54\%\\352800×}
\GEL{0.0109}{tpm2252}{2619}{rfp6664}{2635.4}{l133}{2656,2507}{1.09\%\\352800×}
\GEL{0.0042}{twp2165}{2932}{sde2147}{2965}{l134}{2983,2507}{0.42\%\\352800×}
\GEL{0.0105}{twp2165}{2998}{dw2104}{3132}{l135}{3125,2507}{1.05\%\\352800×}
\draw[ed=0.0041] (twp2165.south -| 2860,0) .. controls (2815,2525) and (2797,2555) .. (2793,2590) .. controls (2789,2625) and (2770,2640) .. (cis2821.north -| 2754,0);
\GL{0.0041}{l136}{2835,2569}{0.41\%\\352800×}
\GEL{0.0076}{rfp6664}{2670}{cis2821}{2704.7}{l137}{2719.6,2631}{0.76\%\\352800×}
\GEL{0.0080}{st71}{3436}{pk83}{3436}{l138}{3459.6,2507}{0.80\%\\352800×}
\GEL{0.0099}{cy841}{821}{ef664}{821}{l139}{845.6,2753}{0.99\%\\185116×}
\GEL{0.0074}{isinst}{1404}{ic96}{1404}{l140}{1429,2753}{0.74\%\\486015×}
\GEL{0.0069}{dw2104}{3220.8}{dw6926}{3220.8}{l141}{3245,2631}{0.69\%\\344160×}
\GEL{0.0066}{pk83}{3436.5}{str108}{3436.5}{l142}{3461,2631}{0.66\%\\382468×}
\GEL{0.0067}{ef664}{821}{ct}{821}{l143}{845.6,2876}{0.67\%\\185226×}
\GEL{0.0063}{ic96}{1404}{aic}{1404}{l144}{1429,2876}{0.63\%\\486022×}
\end{tikzpicture}
\end{document}
